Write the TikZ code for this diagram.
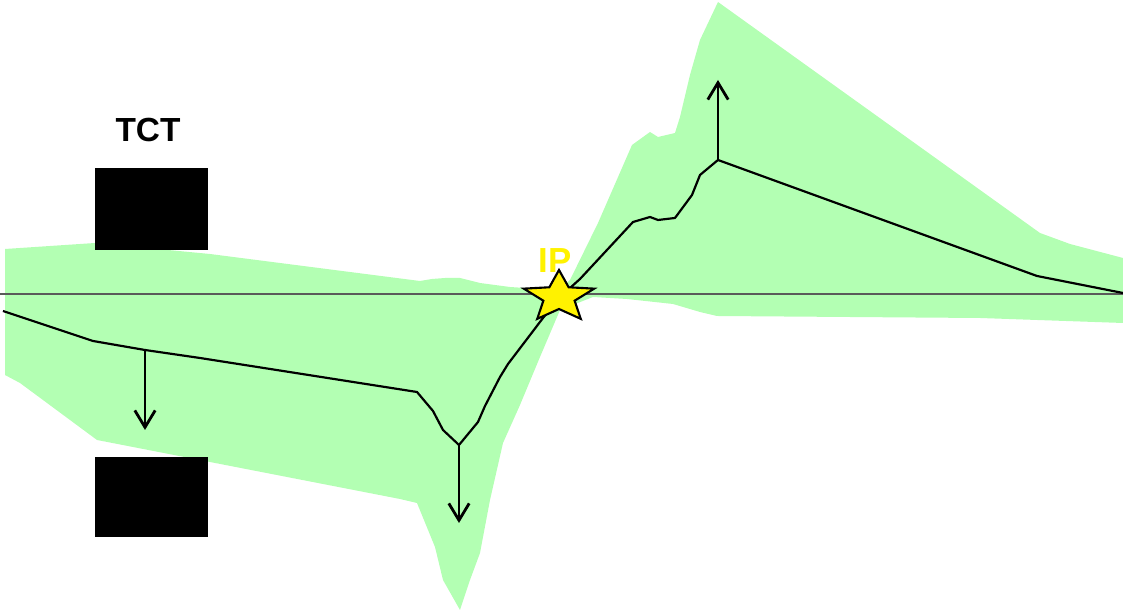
\documentclass[tikz,border=0pt]{standalone}
\usepackage{fontspec}
\setmainfont{Liberation Sans}
\usetikzlibrary{arrows.meta, positioning, shapes.geometric}
\definecolor{envgreen}{HTML}{B3FFB3}
\definecolor{axisgray}{HTML}{5A5A5A}

\begin{document}
\begin{tikzpicture}[
  x=0.01cm, y=-0.01cm,
  envelope/.style={fill=envgreen, draw=none},
  axis/.style={draw=axisgray, line width=0.4pt},
  orbit/.style={draw=black, line width=0.62pt, line join=round},
  kick/.style={-{Straight Barb[length=4.8pt, width=5.8pt]}, line width=0.8pt},
  tctbox/.style={fill=black, inner sep=0pt, minimum width=1.13cm},
  ipstar/.style={star, star points=5, star point ratio=2.25, minimum size=0.54cm, inner sep=0pt, fill=yellow, draw=black, line width=0.6pt, xscale=1.37, transform shape},
  lbl/.style={font=\bfseries\fontsize{9.5}{11}\selectfont, anchor=base}
]
\useasboundingbox (0,0) rectangle (1123,613);

% beam envelope
\fill[envelope] (5,249) -- (95,243) -- (210,254) -- (420,281) -- (432,279) -- (445,278)
  -- (460,278) -- (480,283) -- (510,287) -- (540,289) -- (560,289) -- (570,280)
  -- (598,223) -- (632,145) -- (650,132) -- (658,137) -- (675,133) -- (680,117)
  -- (690,75) -- (700,40) -- (718,2) -- (1040,233) -- (1070,244) -- (1123,258)
  -- (1123,323) -- (980,318) -- (717,316) -- (700,312) -- (673,304) -- (627,299)
  -- (593,297) -- (560,310) -- (540,357) -- (520,405) -- (503,443) -- (490,500)
  -- (480,553) -- (470,580) -- (460,610) -- (443,580) -- (435,547) -- (417,503)
  -- (400,499) -- (210,462) -- (97,440) -- (20,383) -- (5,375) -- cycle;

% reference axis
\coordinate (axl) at (0,294);
\coordinate (axr) at (1123,294);
\draw[axis] (axl) -- (axr);

% kick points and arrow ends
\coordinate (k1) at (145,350);
\coordinate (k2) at (459,445);
\coordinate (k3) at (718,160);
\coordinate (e1) at (145,430);
\coordinate (e2) at (459,523);
\coordinate (e3) at (718,80);

% orbit
\draw[orbit] (3,311) -- (93,341) -- (k1) -- (200,358) -- (417,392) -- (433,411)
  -- (443,430) -- (k2) -- (478,422) -- (485,406) -- (500,377) -- (508,364)
  -- (543,318) -- (560,297) -- (580,279) -- (633,222) -- (650,217) -- (658,220)
  -- (675,218) -- (692,195) -- (700,175) -- (k3) -- (1037,276) -- (1123,293);

% collimators
\node[tctbox, minimum height=0.82cm] (tcttop) at (151.5,209) {};
\node[tctbox, minimum height=0.80cm] (tctbot) at (151.5,497) {};
\node[lbl] (tct) at (148,142) {TCT};

\draw[kick] (k1) -- (e1);
\draw[kick] (k2) -- (e2);
\draw[kick] (k3) -- (e3);

% interaction point
\begin{scope}[shift={(559,297)}]
  \node[ipstar] (ip) at (0,0) {};
\end{scope}
\node[lbl, text=yellow, font=\bfseries\fontsize{9.9}{11}\selectfont] (iplabel) at (555,273) {IP};
\end{tikzpicture}
\end{document}
